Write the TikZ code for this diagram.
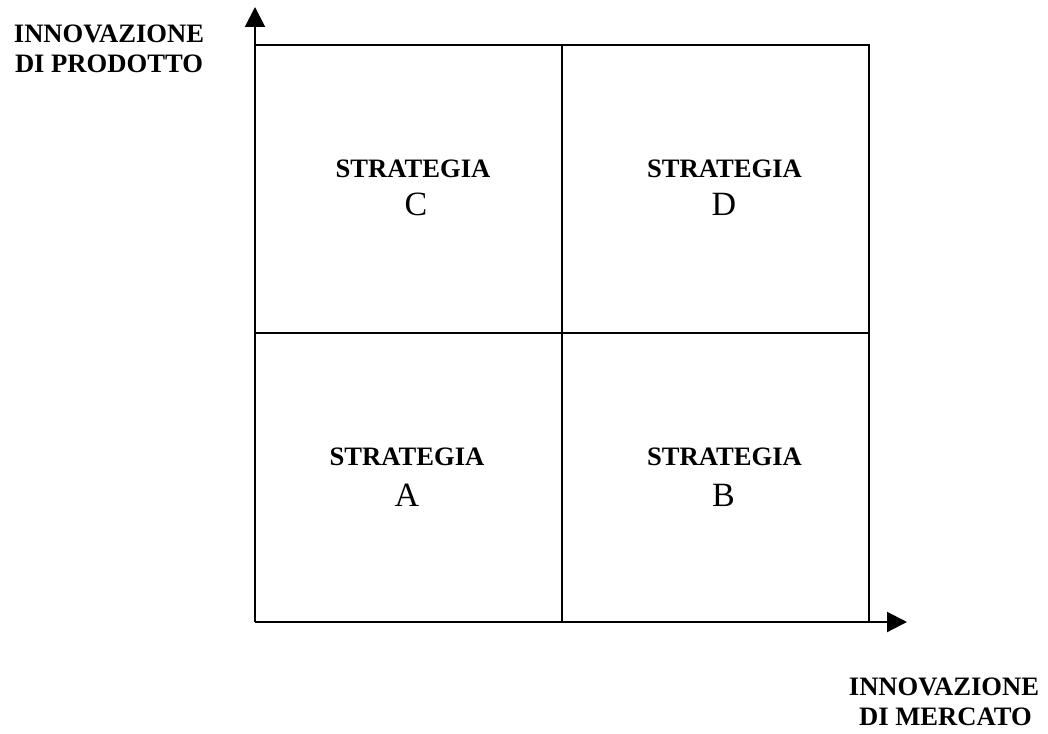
\documentclass[tikz,border=0pt]{standalone}
\usepackage{fontspec}
\setmainfont{Liberation Serif}
\usetikzlibrary{arrows.meta}
\tikzset{
  gridline/.style={line width=2pt, black},
  axisline/.style={line width=2pt, black, -{Triangle[width=20pt,length=20pt]}},
  boldlbl/.style={anchor=base, inner sep=0pt, font=\fontsize{26.6}{30}\selectfont\bfseries},
  letterlbl/.style={anchor=base, inner sep=0pt, font=\fontsize{34}{40}\selectfont},
}
\begin{document}
\begin{tikzpicture}[x=1pt,y=-1pt]
\useasboundingbox (0,0) rectangle (1048,733);
% corners
\coordinate (O) at (255,622);
\coordinate (TL) at (255,45);
\coordinate (TR) at (869,45);
\coordinate (BR) at (869,622);
\coordinate (Mtop) at (562,45);
\coordinate (Mbot) at (562,622);
\coordinate (Mleft) at (255,333);
\coordinate (Mright) at (869,333);
\coordinate (Ytip) at (255,7);
\coordinate (Xtip) at (907,622);
% box and grid
\draw[gridline] (TL) -- (TR) -- (BR);
\draw[gridline] (Mtop) -- (Mbot);
\draw[gridline] (Mleft) -- (Mright);
% axes
\draw[axisline] (O) -- (Ytip);
\draw[axisline] (O) -- (Xtip);
% axis labels
\node[boldlbl] (yl1) at (109,42.5) {INNOVAZIONE};
\node[boldlbl] (yl2) at (109,72.5) {DI PRODOTTO};
\node[boldlbl] (xl1) at (944,695) {INNOVAZIONE};
\node[boldlbl] (xl2) at (945.5,725) {DI MERCATO};
% cells
\node[boldlbl] (sC) at (413,177) {STRATEGIA};
\node[letterlbl] (lC) at (416,215.5) {C};
\node[boldlbl] (sD) at (724.5,177) {STRATEGIA};
\node[letterlbl] (lD) at (724,215.5) {D};
\node[boldlbl] (sA) at (407,465) {STRATEGIA};
\node[letterlbl] (lA) at (407,506.5) {A};
\node[boldlbl] (sB) at (724.5,465) {STRATEGIA};
\node[letterlbl] (lB) at (723.5,506.5) {B};
\end{tikzpicture}
\end{document}
